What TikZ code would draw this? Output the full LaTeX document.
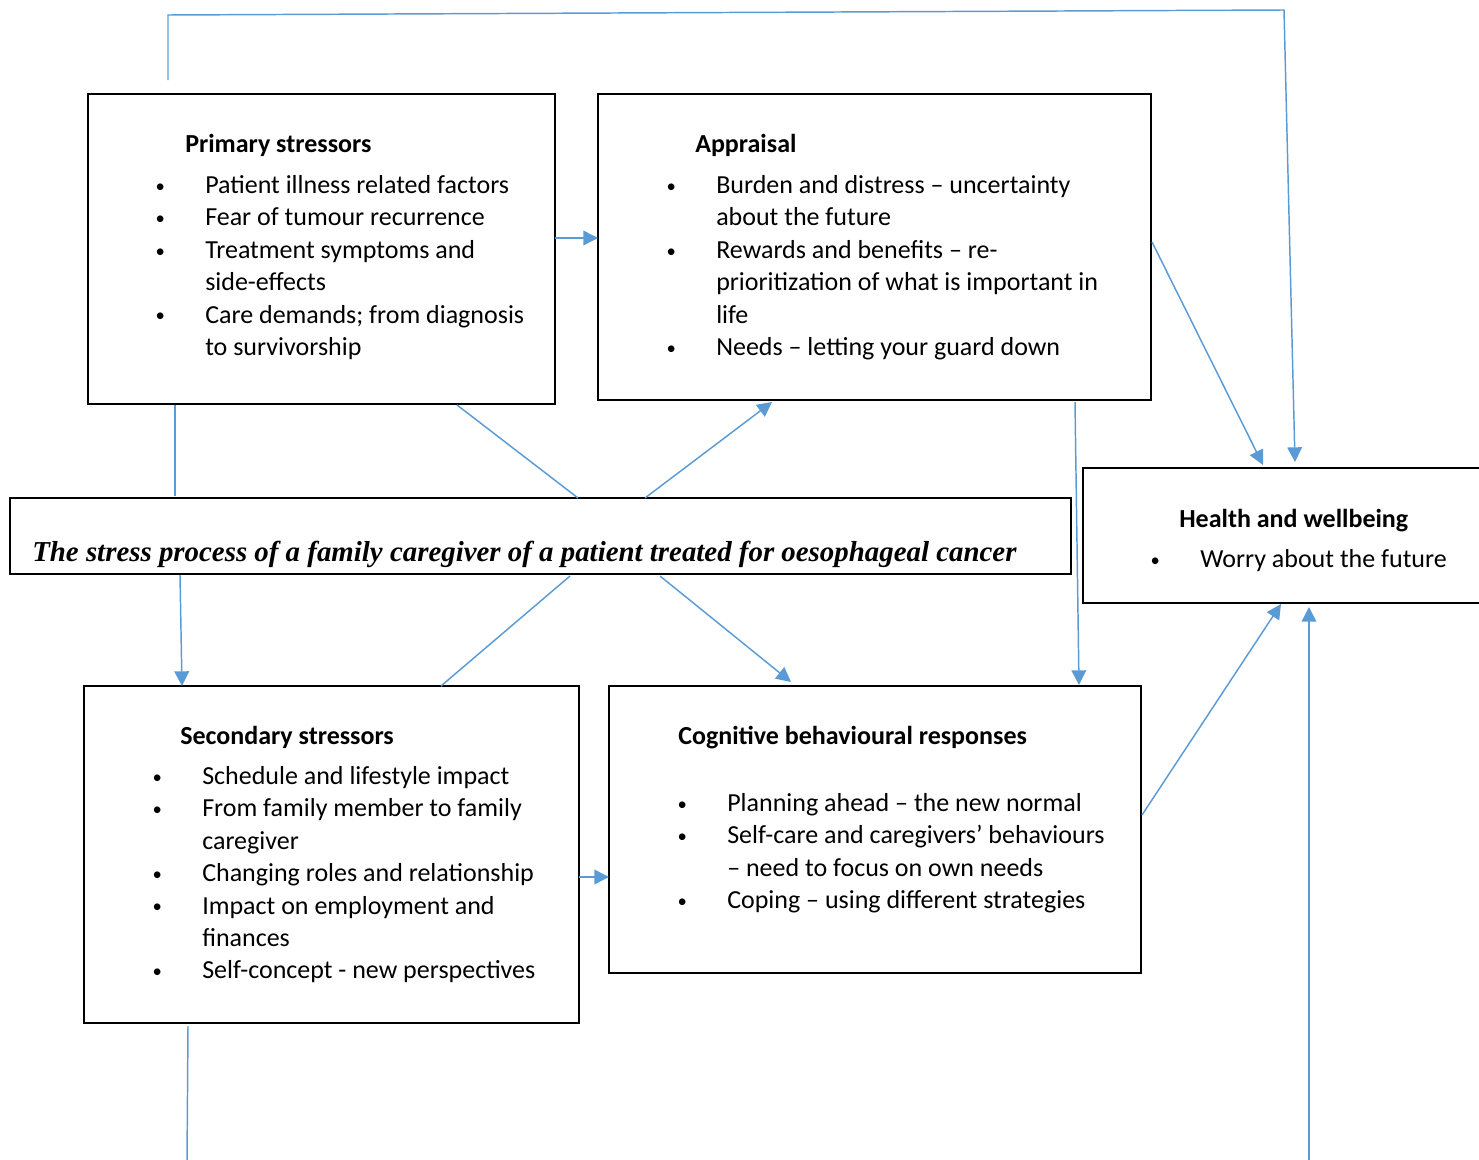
\documentclass[tikz,border=0pt]{standalone}
\usepackage{fontspec}
\setmainfont{Carlito}
\newfontfamily\titlefont{Liberation Serif}
\usetikzlibrary{arrows.meta,calc}
\newlength\px \setlength\px{0.75pt}
\definecolor{conn}{HTML}{5B9BD5}
\newcommand\myhead[2]{\noindent\hspace*{#1\px}\textbf{#2}\par}
\newcommand\mybul{\raisebox{1.2\px}{\scalebox{0.72}{•}}}
\newcommand\bitem[1]{\par\hangindent=45\px\hangafter=1\noindent\makebox[45\px][l]{\makebox[0pt][c]{\mybul}}#1\par}
\newcommand\boxcontent[1]{\vtop{\hsize=700\px\parindent=0pt\parskip=0pt\rightskip=0pt plus 1fil #1}}
\tikzset{
  box/.style={draw=black, line width=1.5pt, inner sep=0pt, outer sep=0pt, anchor=north west},
  cnt/.style={anchor=base west, inner sep=0pt, font=\fontsize{19.5pt}{24.3pt}\selectfont},
  link/.style={draw=conn, line width=1.1pt},
  arr/.style={link, -{Triangle[length=11pt,width=11pt]}},
}
\begin{document}
\begin{tikzpicture}[x=0.75pt,y=-0.75pt]
\useasboundingbox (0,0) rectangle (1479,1160);
% boxes
\node[box, minimum width=467\px, minimum height=310\px] (prim) at (88,94) {};
\node[box, minimum width=553\px, minimum height=306\px] (appr) at (598,94) {};
\node[box, minimum width=1061\px, minimum height=76\px] (title) at (10,498) {};
\node[box, minimum width=407\px, minimum height=135\px] (health) at (1083,468) {};
\node[box, minimum width=495\px, minimum height=337\px] (sec) at (84,686) {};
\node[box, minimum width=532\px, minimum height=287\px] (cog) at (609,686) {};
% title
\node[anchor=base west, inner sep=0pt, font=\titlefont\bfseries\itshape\fontsize{21.66pt}{24pt}\selectfont] (ttl) at (32,561) {The stress process of a family caregiver of a patient treated for oesophageal cancer};
% contents
\node[cnt] (primtxt) at (160,152) {\boxcontent{%
\myhead{25}{Primary stressors}\vspace{9\px}%
\bitem{Patient illness related factors}%
\bitem{Fear of tumour recurrence}%
\bitem{Treatment symptoms and\newline side-effects}%
\bitem{Care demands; from diagnosis\newline to survivorship}}};
\node[cnt] (apprtxt) at (671,152) {\boxcontent{%
\myhead{24}{Appraisal}\vspace{9\px}%
\bitem{Burden and distress – uncertainty\newline about the future}%
\bitem{Rewards and benefits – re-\newline prioritization of what is important in\newline life}%
\bitem{Needs – letting your guard down}}};
\node[cnt] (healthtxt) at (1155,527) {\boxcontent{%
\myhead{24}{Health and wellbeing}\vspace{8\px}%
\bitem{Worry about the future}}};
\node[cnt] (sectxt) at (157,744) {\boxcontent{%
\myhead{23}{Secondary stressors}\vspace{8\px}%
\bitem{Schedule and lifestyle impact}%
\bitem{From family member to family\newline caregiver}%
\bitem{Changing roles and relationship}%
\bitem{Impact on employment and\newline finances}%
\bitem{Self-concept - new perspectives}}};
\node[cnt] (cogtxt) at (682,744) {\boxcontent{%
\myhead{-4}{Cognitive behavioural responses}\vspace{35\px}%
\bitem{Planning ahead – the new normal}%
\bitem{Self-care and caregivers’ behaviours\newline – need to focus on own needs}%
\bitem{Coping – using different strategies}}};
% connectors
\coordinate (lp0) at ($(prim.north west)+(80,-14)$);
\coordinate (lp1) at (168,15);
\coordinate (lp2) at (1284,10);
\coordinate (bot1) at (187,1162);
\coordinate (bot2) at (1309,1162);
\draw[arr] (lp0) -- (lp1) -- (lp2) -- ($(health.north west)+(212,-6)$);
\draw[arr] ($(prim.north east)+(0,144)$) -- ($(appr.north west)+(0,144)$);
\draw[arr] ($(appr.north east)+(1,148)$) -- ($(health.north west)+(180,-3)$);
\draw[link] ($(prim.south west)+(87,1)$) -- ($(title.north west)+(165,-2)$);
\draw[link] ($(prim.south west)+(369,1)$) -- ($(title.north west)+(568,0)$);
\draw[arr] ($(title.north west)+(635,0)$) -- ($(appr.south west)+(174,2)$);
\draw[arr] ($(title.south west)+(170,1)$) -- ($(sec.north west)+(98,0)$);
\draw[link] ($(title.south west)+(560,2)$) -- ($(sec.north west)+(357,0)$);
\draw[arr] ($(title.south west)+(650,2)$) -- ($(cog.north west)+(182,-4)$);
\draw[arr] ($(appr.south west)+(477,2)$) -- ($(cog.north west)+(470,-1)$);
\draw[arr] ($(sec.north east)+(0,191)$) -- ($(cog.north west)+(0,191)$);
\draw[arr] ($(cog.north east)+(1,129)$) -- ($(health.south west)+(198,1)$);
\draw[link] ($(sec.south west)+(104,3)$) -- (bot1);
\draw[arr] (bot2) -- ($(health.south west)+(226,4)$);
\end{tikzpicture}
\end{document}
